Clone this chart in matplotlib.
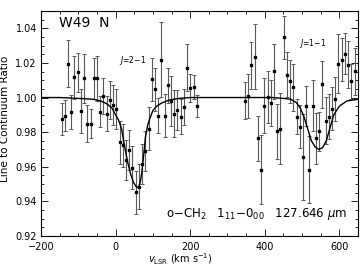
import matplotlib
matplotlib.use('Agg')
import matplotlib.pyplot as plt
from matplotlib.ticker import MultipleLocator, FormatStrFormatter

plt.rcParams['font.family'] = ['DejaVu Sans']
plt.rcParams['mathtext.fontset'] = 'dejavusans'

# J=2-1 segment: velocities (km/s), line/continuum ratio, 1-sigma errors
v_seg1 = [-145.0, -136.4, -127.7, -119.1, -110.4, -101.8, -93.2, -84.5, -75.9, -67.2,
          -58.6, -50.0, -41.3, -32.7, -24.0, -15.4, -6.8, 1.9, 10.5, 19.2,
          27.8, 36.4, 45.1, 53.7, 62.4, 71.0, 79.6, 88.3, 96.9, 105.6,
          114.2, 122.8, 131.5, 140.1, 148.8, 157.4, 166.0, 174.7, 183.3, 192.0,
          200.6, 209.2, 217.9]
r_seg1 = [0.9875, 0.9895, 1.0196, 0.9918, 1.0116, 1.0145, 0.9923, 1.0111, 0.9849, 0.9849,
          1.0111, 1.0111, 0.9918, 1.0009, 0.9906, 0.9986, 0.9957, 0.9935, 0.9742, 0.9725,
          0.9639, 0.9696, 0.9594, 0.9452, 0.9486, 0.9617, 0.9690, 0.9821, 1.0105, 1.0048,
          0.9895, 1.0219, 0.9895, 1.0071, 0.9980, 0.9906, 0.9929, 0.9889, 0.9946, 1.0173,
          1.0054, 1.0060, 0.9952]
e_seg1 = [0.0091, 0.0091, 0.0136, 0.0097, 0.0125, 0.0114, 0.0125, 0.0142, 0.0108, 0.0085,
          0.0119, 0.0131, 0.0091, 0.0102, 0.0102, 0.0108, 0.0114, 0.0114, 0.0125, 0.0125,
          0.0114, 0.0114, 0.0125, 0.0125, 0.0131, 0.0114, 0.0114, 0.0125, 0.0125, 0.0125,
          0.0102, 0.0216, 0.0125, 0.0102, 0.0142, 0.0136, 0.0114, 0.0102, 0.0102, 0.0136,
          0.0080, 0.0068, 0.0062]

# J=1-1 segment
v_seg2 = [347.0, 355.6, 364.3, 372.9, 381.6, 390.2, 398.8, 407.5, 416.1, 424.8,
          433.4, 442.0, 450.7, 459.3, 468.0, 476.6, 485.2, 493.9, 502.5, 511.2,
          519.8, 528.4, 537.1, 545.7, 554.4, 563.0, 571.6, 580.3, 588.9, 597.6,
          606.2, 614.8, 623.5, 632.1, 640.8]
r_seg2 = [0.9982, 1.0009, 1.0187, 1.0236, 0.9764, 0.9583, 0.9952, 1.0003, 0.9969, 1.0151,
          0.9804, 0.9821, 1.0349, 1.0133, 1.0094, 1.0060, 0.9889, 0.9832, 0.9656, 0.9952,
          0.9583, 0.9952, 0.9764, 0.9804, 1.0077, 0.9867, 0.9889, 0.9935, 0.9991, 1.0196,
          1.0219, 1.0253, 1.0190, 1.0094, 1.0151]
e_seg2 = [0.0108, 0.0125, 0.0136, 0.0187, 0.0131, 0.0199, 0.0159, 0.0148, 0.0131, 0.0159,
          0.0159, 0.0204, 0.0125, 0.0131, 0.0125, 0.0136, 0.0102, 0.0125, 0.0250, 0.0114,
          0.0193, 0.0148, 0.0148, 0.0114, 0.0136, 0.0136, 0.0131, 0.0125, 0.0125, 0.0170,
          0.0125, 0.0119, 0.0136, 0.0102, 0.0136]

# model fit
v_model = [-200, -150, -100, -60, -40, -25, -10, 0, 8, 16, 24, 32, 40, 48, 55, 60, 65,
           70, 75, 80, 86, 92, 100, 110, 125, 145, 170, 200, 300, 420, 450, 470, 485,
           495, 505, 515, 525, 535, 545, 555, 565, 575, 585, 600, 620, 650]
r_model = [1.0000, 1.0000, 0.9995, 0.9990, 0.9980, 0.9966, 0.9940, 0.9900, 0.9870,
           0.9820, 0.9720, 0.9630, 0.9560, 0.9510, 0.9485, 0.9480, 0.9500, 0.9560,
           0.9660, 0.9770, 0.9840, 0.9880, 0.9925, 0.9950, 0.9970, 0.9986, 0.9995,
           1.0000, 1.0000, 1.0000, 0.9995, 0.9990, 0.9970, 0.9940, 0.9890, 0.9820,
           0.9750, 0.9715, 0.9700, 0.9710, 0.9750, 0.9825, 0.9900, 0.9950, 0.9980,
           0.9990]

fig = plt.figure(figsize=(3.62, 2.67), dpi=100)
ax = fig.add_axes([41 / 362, 31 / 267, 317 / 362, 225 / 267])

for v, r, e in [(v_seg1, r_seg1, e_seg1), (v_seg2, r_seg2, e_seg2)]:
    ax.errorbar(v, r, yerr=e, fmt='s', ms=1.6, mfc='k', mec='k', ecolor='0.35',
                elinewidth=0.8, capsize=1.6, capthick=0.7, zorder=2)
ax.plot(v_model, r_model, color='k', lw=1.0, zorder=3)

ax.set_xlim(-200, 650)
ax.set_ylim(0.92, 1.05)
ax.xaxis.set_major_locator(MultipleLocator(200))
ax.xaxis.set_minor_locator(MultipleLocator(50))
ax.yaxis.set_major_locator(MultipleLocator(0.02))
ax.yaxis.set_minor_locator(MultipleLocator(0.005))
ax.yaxis.set_major_formatter(FormatStrFormatter('%.2f'))
ax.tick_params(which='both', direction='in', top=True, right=True, labelsize=7, width=0.6)
ax.tick_params(which='major', length=5)
ax.tick_params(which='minor', length=2.5)
ax.tick_params(axis='x', pad=4)
ax.tick_params(axis='y', pad=3)
for s in ax.spines.values():
    s.set_linewidth(0.8)

ax.set_ylabel('Line to Continuum Ratio', fontsize=7.5)
ax.yaxis.set_label_coords(-0.098, 0.52)
ax.set_xlabel(r'$\it{v}_{\rm LSR}$ (km s$^{-1}$)', fontsize=7)
ax.xaxis.set_label_coords(0.44, -0.068)

ax.text(-152, 1.0405, 'W49  N', fontsize=10, ha='left', va='baseline')
ax.text(46, 1.0213, r'$J$=2$-$1', fontsize=5.5, ha='center', va='center')
ax.text(528, 1.031, r'$J$=1$-$1', fontsize=5.5, ha='center', va='center')
ax.text(620, 0.931, r'o$-$CH$_2$   1$_{11}$$-$0$_{00}$   127.646 $\mu$m',
        fontsize=8.5, ha='right', va='baseline')

fig.savefig('out.png', dpi=100)
